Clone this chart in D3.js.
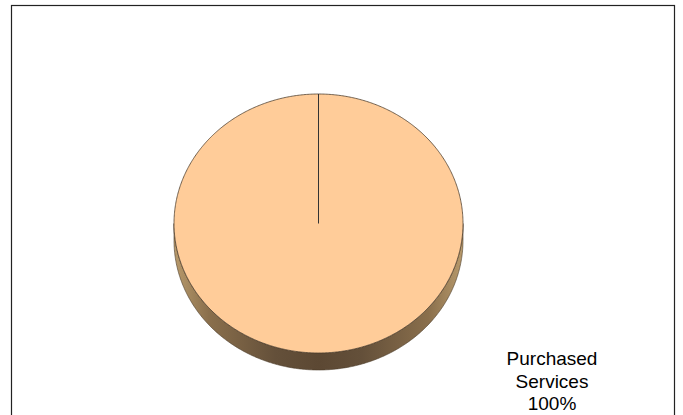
<!DOCTYPE html>
<html>
<head>
<meta charset="utf-8">
<script src="https://cdn.jsdelivr.net/npm/d3@7"></script>
<style>
  html, body { margin: 0; padding: 0; background: #fff; }
  svg { display: block; }
</style>
</head>
<body>
<svg id="chart" width="683" height="415"></svg>
<script>
// Data
const categories = ["Purchased Services"];
const values = [100];
const labels = ["100%"];
const colors = ["#FFCC99"];

const svg = d3.select("#chart");

// frame
svg.append("rect")
  .attr("x", 11.5).attr("y", 5.5)
  .attr("width", 663).attr("height", 430)
  .attr("fill", "#fff").attr("stroke", "#222").attr("stroke-width", 1.2);

const cx = 318.5, cy = 223.5, rx = 144.5, ry = 129.5, depth = 17;

const defs = svg.append("defs");
const sideGrad = defs.append("linearGradient").attr("id", "sideGrad")
  .attr("gradientUnits", "userSpaceOnUse")
  .attr("x1", cx - rx).attr("x2", cx + rx).attr("y1", 0).attr("y2", 0);
[[0, "#b89a6c"], [0.12, "#8a6f4c"], [0.35, "#64503a"], [0.5, "#5c4833"], [0.65, "#64503a"], [0.88, "#8a6f4c"], [1, "#b89a6c"]]
  .forEach(([o, c]) => sideGrad.append("stop").attr("offset", o).attr("stop-color", c));

const pie = d3.pie().sort(null).value(d => d);
const arcs = pie(values);

const pt = (a, dy) => [cx + rx * Math.sin(a), cy - ry * Math.cos(a) + (dy || 0)];
const line = d3.line();

const g = svg.append("g");

// side walls (visible front half: angles between PI/2 and 3PI/2)
arcs.forEach((d, i) => {
  const a0 = Math.max(d.startAngle, Math.PI / 2);
  const a1 = Math.min(d.endAngle, 3 * Math.PI / 2);
  if (a1 <= a0) return;
  const steps = d3.range(a0, a1, 0.01).concat([a1]);
  const top = steps.map(a => pt(a, 0));
  const bot = steps.slice().reverse().map(a => pt(a, depth));
  g.append("path")
    .attr("d", line(top.concat(bot)) + "Z")
    .attr("fill", "url(#sideGrad)")
    .attr("stroke", "#4a3a28").attr("stroke-width", 0.6);
});

// top faces
arcs.forEach((d, i) => {
  const steps = d3.range(d.startAngle, d.endAngle, 0.01).concat([d.endAngle]);
  const pts = steps.map(a => pt(a, 0));
  const full = (d.endAngle - d.startAngle) >= 2 * Math.PI - 1e-6;
  const path = full ? line(pts) + "Z" : line([[cx, cy]].concat(pts)) + "Z";
  g.append("path")
    .attr("d", path)
    .attr("fill", colors[i])
    .attr("stroke", "#4f4030").attr("stroke-width", 0.8);
  const p0 = pt(d.startAngle, 0);
  g.append("line")
    .attr("x1", cx).attr("y1", cy)
    .attr("x2", p0[0]).attr("y2", p0[1])
    .attr("stroke", "#333").attr("stroke-width", 1);
});

// label
const lbl = svg.append("text")
  .attr("text-anchor", "middle")
  .attr("font-family", "'Liberation Sans', Arial, sans-serif")
  .attr("font-size", 19)
  .attr("fill", "#000");
const lines = categories[0].split(" ").concat([labels[0]]);
lines.forEach((t, i) => {
  lbl.append("tspan").attr("x", 552).attr("y", 365 + i * 22.5).text(t);
});
</script>
</body>
</html>
